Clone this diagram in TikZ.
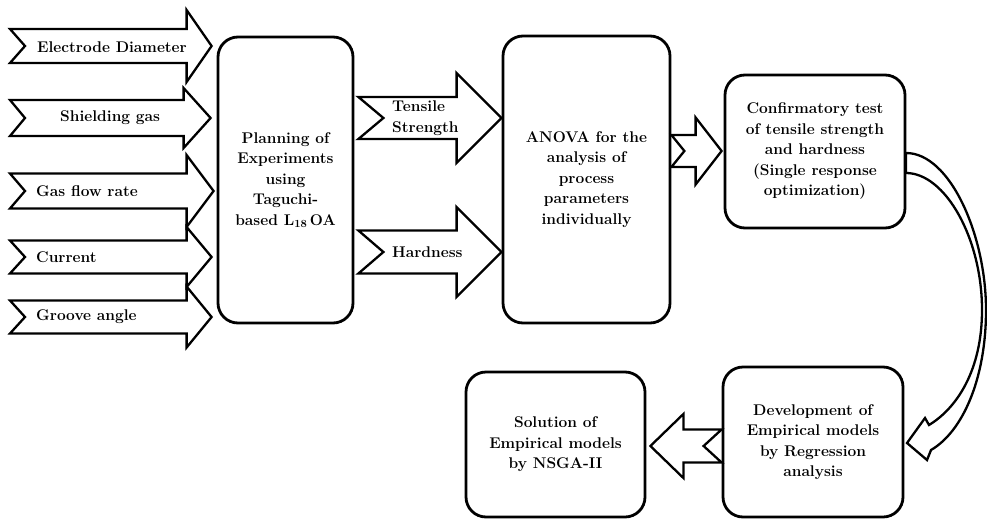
\documentclass[tikz,border=0pt]{standalone}
\usepackage{tikz}
\usetikzlibrary{calc}
\newcommand{\lbl}{\fontsize{15.5}{20.5}\selectfont\bfseries}
\tikzset{
  stage/.style={draw,line width=2.8pt,rounded corners=20pt,align=center,font=\lbl,inner sep=4pt},
  blk/.style={draw,line width=2.3pt,line join=miter,fill=white},
  tag/.style={font=\lbl,inner sep=0pt,align=left,anchor=west}
}
% fat arrow: tail, tip, body half, head half, head length, notch
\newcommand{\fatarrow}[6]{%
  \coordinate (hb) at ($#2!#5pt!#1$);
  \coordinate (nt) at ($#1!#6pt!#2$);
  \draw[blk] ($#1+(0,#3)$) -- ($(hb)+(0,#3)$) -- ($(hb)+(0,#4)$) -- #2
    -- ($(hb)-(0,#4)$) -- ($(hb)-(0,#3)$) -- ($#1-(0,#3)$) -- (nt) -- cycle;}

\begin{document}
\begin{tikzpicture}[x=1pt,y=-1pt]
  \useasboundingbox (0,0) rectangle (987,522);
  % boxes
  \node[stage,minimum width=135pt,minimum height=286pt] (plan) at (285.5,180)
    {Planning of\\Experiments\\using\\Taguchi-\\based L$_{\mathbf{18}}$\,OA};
  \node[stage,minimum width=167pt,minimum height=287pt] (anova) at (586.5,179.5)
    {ANOVA for the\\analysis of\\process\\parameters\\individually};
  \node[stage,minimum width=180pt,minimum height=153pt] (conf) at (815,151.5)
    {Confirmatory test\\of tensile strength\\and hardness\\(Single response\\optimization)};
  \node[stage,minimum width=180pt,minimum height=150pt] (dev) at (813,442)
    {Development of\\Empirical models\\by Regression\\analysis};
  \node[stage,minimum width=179pt,minimum height=145pt] (sol) at (555.5,444.5)
    {Solution of\\Empirical models\\by NSGA-II};
  % input arrows
  \coordinate (ed0) at (10,46);  \coordinate (ed1) at ($(plan.west |- ed0)+(-5,0)$);
  \coordinate (sg0) at (10,118); \coordinate (sg1) at ($(plan.west |- sg0)+(-6,0)$);
  \coordinate (gf0) at (10,191); \coordinate (gf1) at ($(plan.west |- gf0)+(-3,0)$);
  \coordinate (cu0) at (10,257); \coordinate (cu1) at ($(plan.west |- cu0)+(-5,0)$);
  \coordinate (ga0) at (10,317); \coordinate (ga1) at ($(plan.west |- ga0)+(-5,0)$);
  \fatarrow{(ed0)}{(ed1)}{17}{36}{25}{15}
  \fatarrow{(sg0)}{(sg1)}{18}{30}{27}{15}
  \fatarrow{(gf0)}{(gf1)}{17.5}{36}{27}{15}
  \fatarrow{(cu0)}{(cu1)}{16.5}{30}{25}{15}
  \fatarrow{(ga0)}{(ga1)}{16.5}{30.5}{25}{15}
  % responses
  \coordinate (ts0) at ($(plan.east |- 0,118)+(4,0)$);
  \coordinate (hd0) at ($(plan.east |- 0,252)+(4,0)$);
  \fatarrow{(ts0)}{(anova.west |- ts0)}{21}{45}{45}{25}
  \fatarrow{(hd0)}{(anova.west |- hd0)}{21.5}{45}{45}{25}
  % to confirmation and to NSGA-II
  \coordinate (an0) at (anova.east |- 0,151);
  \coordinate (dv0) at (dev.west |- 0,446);
  \fatarrow{(an0)}{($(conf.west |- an0)+(-2,0)$)}{16}{33.5}{26}{13}
  \fatarrow{(dv0)}{($(sol.east |- dv0)+(4,0)$)}{16.5}{32}{33}{18}
  % curved arrow
  \draw[blk] (906,153) .. controls (950,153) and (986,235) .. (986,310)
    .. controls (986,380) and (962,432) .. (931,450)
    -- (927,460) -- (907,443) -- (925,418) -- (929,425)
    .. controls (957,408) and (982,370) .. (982,310)
    .. controls (982,238) and (945,173) .. (906,173) -- cycle;
  % labels
  \node[tag] (ed) at (37,47) {Electrode Diameter};
  \node[tag] (sg) at (60,118) {Shielding gas};
  \node[tag] (gf) at (36,191) {Gas flow rate};
  \node[tag] (cu) at (36,257) {Current};
  \node[tag] (ga) at (36,317) {Groove angle};
  \node[tag] (ts) at (392,118) {Tensile\\Strength};
  \node[tag] (hd) at (392,252) {Hardness};
\end{tikzpicture}
\end{document}
